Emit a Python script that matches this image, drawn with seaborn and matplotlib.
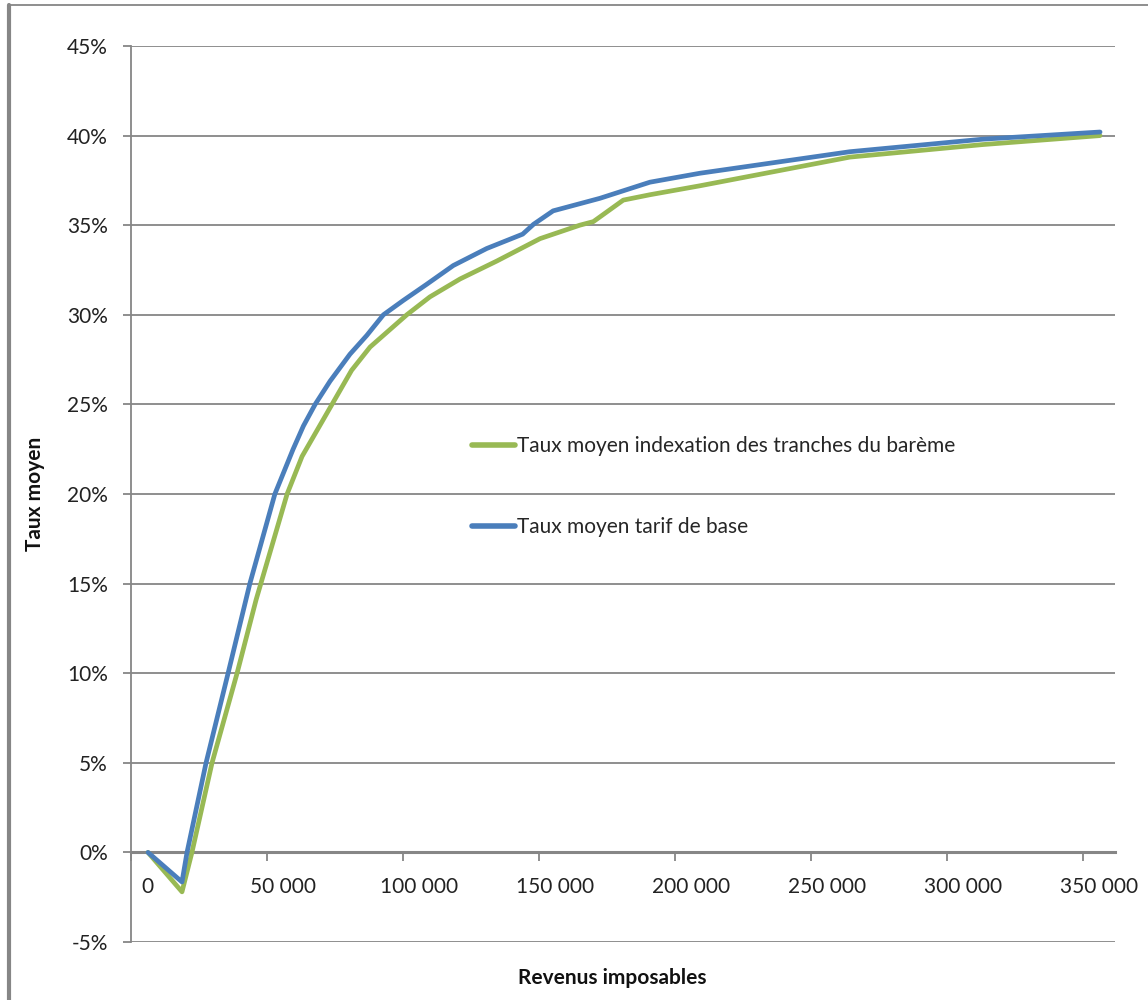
import matplotlib
matplotlib.use("Agg")
import matplotlib.pyplot as plt
import matplotlib.transforms as mtransforms
from matplotlib.lines import Line2D
import seaborn as sns
import pandas as pd

# ---- data ----
blue_label = "Taux moyen tarif de base"
green_label = "Taux moyen indexation des tranches du barème"

blue_x = [6250, 18750, 20600, 27600, 35700, 43700, 52900, 59600, 63400, 67700,
          73200, 80500, 86700, 92800, 100100, 108700, 118500, 130800, 144000,
          148000, 155200, 172400, 190800, 209200, 264300, 313200, 356300]
blue_y = [0.0, -1.65, 0.0, 5.0, 10.0, 15.0, 20.0, 22.5, 23.8, 25.0,
          26.3, 27.8, 28.85, 30.0, 30.8, 31.7, 32.75, 33.7, 34.5,
          35.05, 35.8, 36.5, 37.4, 37.9, 39.1, 39.8, 40.2]

green_x = [6250, 18750, 22400, 29800, 39000, 46000, 57400, 62900, 73900, 81100,
           87900, 101400, 109900, 121000, 134500, 150400, 165000, 170000, 181000,
           190800, 209200, 264300, 313200, 356300]
green_y = [0.0, -2.2, 0.0, 5.0, 10.0, 14.1, 20.0, 22.1, 25.0, 26.9,
           28.2, 30.0, 31.0, 32.0, 33.0, 34.25, 35.0, 35.2, 36.4,
           36.7, 37.2, 38.8, 39.5, 40.0]

x_ticks = [0, 50000, 100000, 150000, 200000, 250000, 300000, 350000]
x_tick_labels = ["0", "50 000", "100 000", "150 000", "200 000", "250 000", "300 000", "350 000"]
y_ticks = [-5, 0, 5, 10, 15, 20, 25, 30, 35, 40, 45]
y_tick_labels = ["-5%", "0%", "5%", "10%", "15%", "20%", "25%", "30%", "35%", "40%", "45%"]

df = pd.concat([
    pd.DataFrame({"x": green_x, "y": green_y, "serie": green_label}),
    pd.DataFrame({"x": blue_x, "y": blue_y, "serie": blue_label}),
], ignore_index=True)

# ---- style ----
sns.set_theme(style="white")
plt.rcParams["font.family"] = ["Lato", "DejaVu Sans"]
GRAY = "#868686"

fig = plt.figure(figsize=(11.48, 10.0), dpi=100)
ax = fig.add_axes([131 / 1148, 58 / 1000, (1115 - 131) / 1148, (942 - 46) / 1000])

sns.lineplot(data=df, x="x", y="y", hue="serie", sort=False, estimator=None,
             palette={green_label: "#98B954", blue_label: "#4A7EBB"},
             hue_order=[green_label, blue_label], linewidth=3.4, ax=ax, zorder=3)

ax.set_xlim(0, 361800)
ax.set_ylim(-5, 45)

# grid and spines
ax.set_yticks(y_ticks)
ax.set_yticklabels(y_tick_labels)
ax.set_xticks(x_ticks)
ax.set_xticklabels(x_tick_labels)
ax.yaxis.grid(True, color=GRAY, linewidth=1.3)
ax.xaxis.grid(False)
ax.set_axisbelow(True)
for s in ["top", "right"]:
    ax.spines[s].set_visible(False)
ax.spines["left"].set_color(GRAY)
ax.spines["left"].set_linewidth(1.3)
ax.spines["bottom"].set_position(("data", 0))
ax.spines["bottom"].set_color(GRAY)
ax.spines["bottom"].set_linewidth(2.2)

ax.tick_params(axis="y", direction="out", length=5.8, width=1.3, color=GRAY,
               pad=10.8, labelsize=15, labelcolor="#222222", left=True)
ax.tick_params(axis="x", direction="out", length=6.5, width=1.3, color=GRAY,
               pad=11, labelsize=15, labelcolor="#222222", bottom=True)
offset = mtransforms.ScaledTranslation(0.16, 0, fig.dpi_scale_trans)
for lab in ax.get_xticklabels():
    lab.set_transform(lab.get_transform() + offset)

ax.set_xlabel("Revenus imposables", fontsize=15, fontweight="bold", color="#111111")
ax.set_ylabel("Taux moyen", fontsize=15, fontweight="bold", color="#111111")
ax.xaxis.set_label_coords((612 - 131) / 984, (942 - 978) / 896)
ax.xaxis.label.set_verticalalignment("center")
ax.yaxis.set_label_coords((35 - 131) / 984, 0.5)
ax.yaxis.label.set_verticalalignment("center")

# legend
handles, labels = ax.get_legend_handles_labels()
ax.legend(handles, labels, loc="upper left", bbox_to_anchor=(472 / 1148, 1 - 436 / 1000),
          bbox_transform=fig.transFigure, frameon=False, fontsize=15,
          handlelength=2.07, handletextpad=0.1, labelspacing=2.95,
          borderpad=0, borderaxespad=0)
for h in ax.get_legend().legend_handles:
    h.set_linewidth(4)

# figure frame (left and top edges)
fig.add_artist(Line2D([9 / 1148, 9 / 1148], [0, 1 - 5 / 1000], transform=fig.transFigure,
                      color=GRAY, linewidth=3))
fig.add_artist(Line2D([9 / 1148, 1], [1 - 5 / 1000, 1 - 5 / 1000], transform=fig.transFigure,
                      color=GRAY, linewidth=1.3))

fig.savefig("out.png", dpi=100)
